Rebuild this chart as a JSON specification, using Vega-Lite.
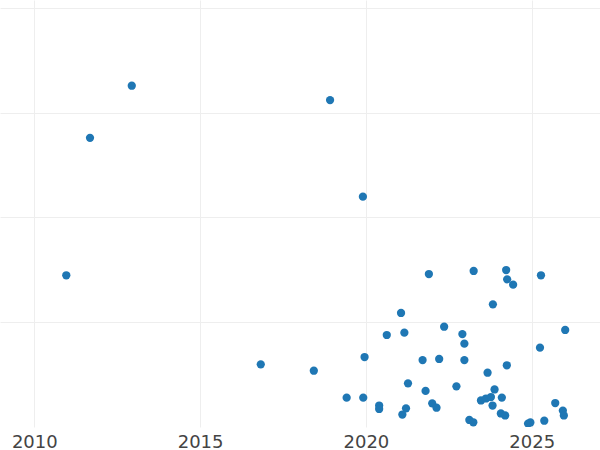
{
  "$schema": "https://vega.github.io/schema/vega-lite/v6.json",
  "width": 600,
  "height": 427,
  "padding": 0,
  "autosize": {"type": "pad"},
  "background": "white",
  "config": {"view": {"stroke": null}},
  "data": {"values": [
    {"year": 2010.965, "value": 144.8},
    {"year": 2011.68, "value": 276.0},
    {"year": 2012.94, "value": 325.7},
    {"year": 2016.83, "value": 59.8},
    {"year": 2018.43, "value": 53.7},
    {"year": 2018.92, "value": 312.0},
    {"year": 2019.91, "value": 219.8},
    {"year": 2019.42, "value": 28.0},
    {"year": 2019.92, "value": 28.0},
    {"year": 2019.96, "value": 66.8},
    {"year": 2020.40, "value": 20.5},
    {"year": 2020.40, "value": 17.2},
    {"year": 2020.63, "value": 87.8},
    {"year": 2021.06, "value": 108.8},
    {"year": 2021.16, "value": 90.0},
    {"year": 2021.27, "value": 41.7},
    {"year": 2021.21, "value": 17.8},
    {"year": 2021.10, "value": 11.9},
    {"year": 2021.90, "value": 146.0},
    {"year": 2021.71, "value": 63.9},
    {"year": 2022.21, "value": 64.9},
    {"year": 2021.80, "value": 34.4},
    {"year": 2022.00, "value": 22.6},
    {"year": 2022.13, "value": 18.4},
    {"year": 2022.36, "value": 95.7},
    {"year": 2022.91, "value": 88.7},
    {"year": 2022.97, "value": 79.5},
    {"year": 2022.97, "value": 63.9},
    {"year": 2022.73, "value": 38.8},
    {"year": 2023.12, "value": 6.7},
    {"year": 2023.24, "value": 4.5},
    {"year": 2023.25, "value": 148.9},
    {"year": 2023.83, "value": 117.1},
    {"year": 2023.67, "value": 51.8},
    {"year": 2024.23, "value": 149.8},
    {"year": 2024.26, "value": 140.9},
    {"year": 2024.44, "value": 135.8},
    {"year": 2024.25, "value": 58.9},
    {"year": 2023.47, "value": 25.3},
    {"year": 2023.62, "value": 27.2},
    {"year": 2023.77, "value": 28.6},
    {"year": 2023.88, "value": 35.8},
    {"year": 2023.82, "value": 20.5},
    {"year": 2024.10, "value": 28.1},
    {"year": 2024.07, "value": 12.9},
    {"year": 2024.20, "value": 11.0},
    {"year": 2024.89, "value": 3.3},
    {"year": 2024.96, "value": 4.3},
    {"year": 2025.38, "value": 6.0},
    {"year": 2025.28, "value": 144.8},
    {"year": 2025.25, "value": 75.7},
    {"year": 2026.01, "value": 92.6},
    {"year": 2025.71, "value": 22.9},
    {"year": 2025.94, "value": 15.7},
    {"year": 2025.97, "value": 11.0}
  ]},
  "mark": {"type": "point", "filled": true, "size": 68, "opacity": 1, "color": "#1f77b4", "clip": true},
  "encoding": {
    "x": {
      "field": "year", "type": "quantitative",
      "scale": {"domain": [2008.966, 2027.06], "nice": false, "zero": false},
      "axis": {
        "title": null, "values": [2010, 2015, 2020, 2025], "format": "d",
        "grid": true, "gridColor": "#eeeeee", "gridWidth": 1,
        "domain": false, "ticks": false,
        "labelFont": "DejaVu Sans", "labelFontSize": 18, "labelColor": "#444444",
        "labelPadding": 6
      }
    },
    "y": {
      "field": "value", "type": "quantitative",
      "scale": {"domain": [0, 407.5], "nice": false, "zero": false},
      "axis": {
        "title": null, "values": [100, 200, 300, 400],
        "grid": true, "gridColor": "#eeeeee", "gridWidth": 1,
        "domain": false, "ticks": false, "labels": false
      }
    }
  }
}
